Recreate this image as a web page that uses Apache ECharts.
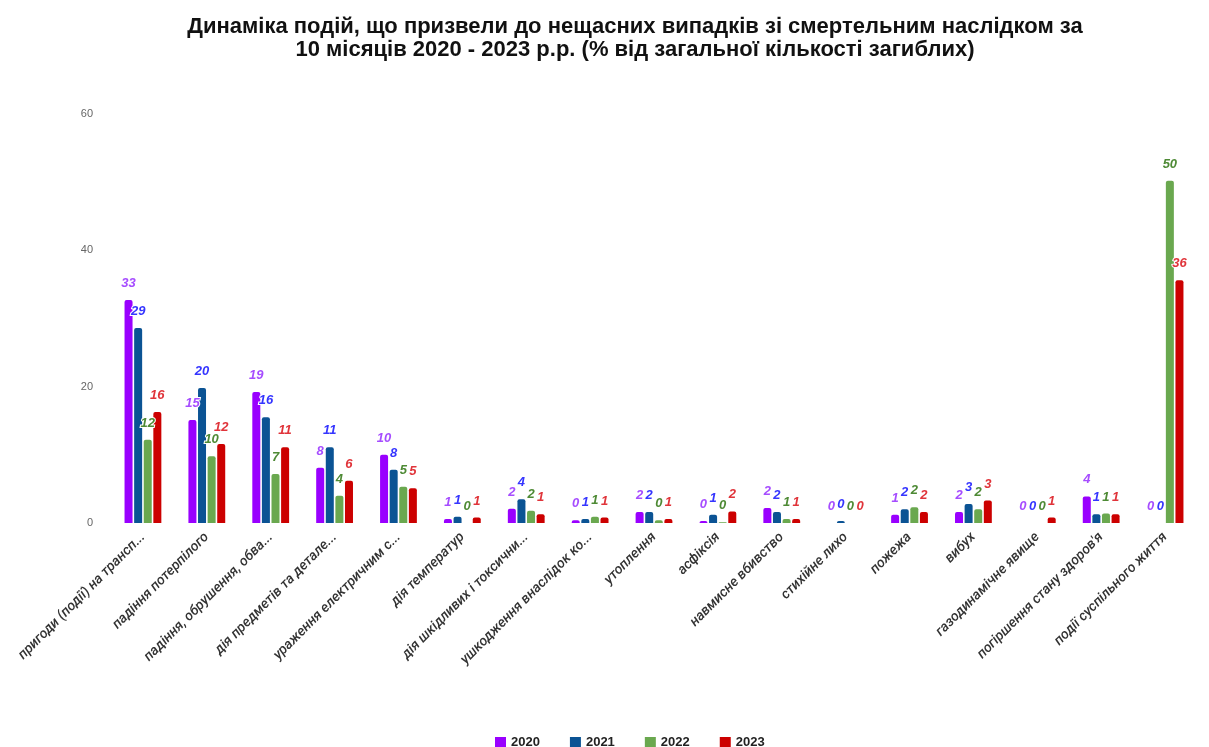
<!DOCTYPE html>
<html>
<head>
<meta charset="utf-8">
<script src="https://cdn.jsdelivr.net/npm/echarts@6/dist/echarts.min.js"></script>
<style>
  html, body { margin: 0; padding: 0; background: #fff; }
  #chart { width: 1209px; height: 747px; }
</style>
</head>
<body>
<div id="chart"></div>
<script>
// categories as they appear (already shortened in the source chart)
const categories = [
  'пригоди (події) на трансп...',
  'падіння потерпілого',
  'падіння, обрушення, обва...',
  'дія предметів та детале...',
  'ураження електричним с...',
  'дія температур',
  'дія шкідливих і токсични...',
  'ушкодження внаслідок ко...',
  'утоплення',
  'асфіксія',
  'навмисне вбивство',
  'стихійне лихо',
  'пожежа',
  'вибух',
  'газодинамічне явище',
  "погіршення стану здоров'я",
  'події суспільного життя'
];

const years = ['2020', '2021', '2022', '2023'];

const v2020 = [32.7, 15.1, 19.2, 8.1, 10.0, 0.6, 2.1, 0.4, 1.6, 0.3, 2.2, 0, 1.2, 1.6, 0, 3.9, 0];
const v2021 = [28.6, 19.8, 15.5, 11.1, 7.8, 0.9, 3.5, 0.6, 1.6, 1.2, 1.6, 0.3, 2.0, 2.8, 0, 1.3, 0];
const v2022 = [12.2, 9.8, 7.2, 4.0, 5.3, 0, 1.8, 0.9, 0.4, 0.1, 0.6, 0, 2.3, 2.0, 0, 1.4, 50.2];
const v2023 = [16.3, 11.6, 11.1, 6.2, 5.1, 0.8, 1.3, 0.8, 0.6, 1.7, 0.6, 0, 1.6, 3.3, 0.8, 1.3, 35.6];

const barColors = ['#9900ff', '#0b5394', '#6aa84f', '#cc0000'];
const labelColors = ['#a64dff', '#3535ff', '#4e8a35', '#e0343a'];
const allValues = [v2020, v2021, v2022, v2023];

const chart = echarts.init(document.getElementById('chart'));

const series = years.map((y, i) => ({
  name: y,
  type: 'bar',
  data: allValues[i],
  barWidth: 8,
  barGap: '20%',
  itemStyle: { color: barColors[i], borderRadius: [2, 2, 0, 0] },
  label: {
    show: true,
    position: 'top',
    distance: 10,
    formatter: p => Math.round(p.value),
    color: labelColors[i],
    fontSize: 13,
    fontWeight: 'bold',
    fontStyle: 'italic',
    fontFamily: 'Liberation Sans, Arial, sans-serif',
    textBorderColor: '#fff',
    textBorderWidth: 2
  }
}));

chart.setOption({
  animation: false,
  title: {
    text: 'Динаміка подій, що призвели до нещасних випадків зі смертельним наслідком за\n10 місяців 2020 - 2023 р.р. (% від загальної кількості загиблих)',
    left: 630,
    textAlign: 'center',
    top: 10,
    textStyle: {
      fontFamily: 'Liberation Sans, Arial, sans-serif',
      fontSize: 22,
      fontWeight: 'bold',
      color: '#111',
      lineHeight: 23
    }
  },
  legend: {
    top: 731,
    left: 490,
    itemWidth: 11,
    itemHeight: 11,
    itemGap: 30,
    icon: 'rect',
    textStyle: {
      fontFamily: 'Liberation Sans, Arial, sans-serif',
      fontSize: 13,
      fontWeight: 'bold',
      color: '#222'
    },
    data: years
  },
  grid: { left: 111, right: 12, top: 114, bottom: 224 },
  xAxis: {
    type: 'category',
    data: categories,
    axisLine: { show: false },
    axisTick: { show: false },
    axisLabel: {
      interval: 0,
      rotate: 45,
      margin: 12,
      fontFamily: 'Roboto, sans-serif',
      fontStyle: 'italic',
      fontWeight: 500,
      fontSize: 14,
      color: '#333'
    }
  },
  yAxis: {
    type: 'value',
    min: 0,
    max: 60,
    interval: 20,
    splitLine: { show: false },
    axisLine: { show: false },
    axisTick: { show: false },
    axisLabel: {
      margin: 18,
      fontFamily: 'Liberation Sans, Arial, sans-serif',
      fontSize: 11,
      color: '#666'
    }
  },
  series: series
});
</script>
</body>
</html>
